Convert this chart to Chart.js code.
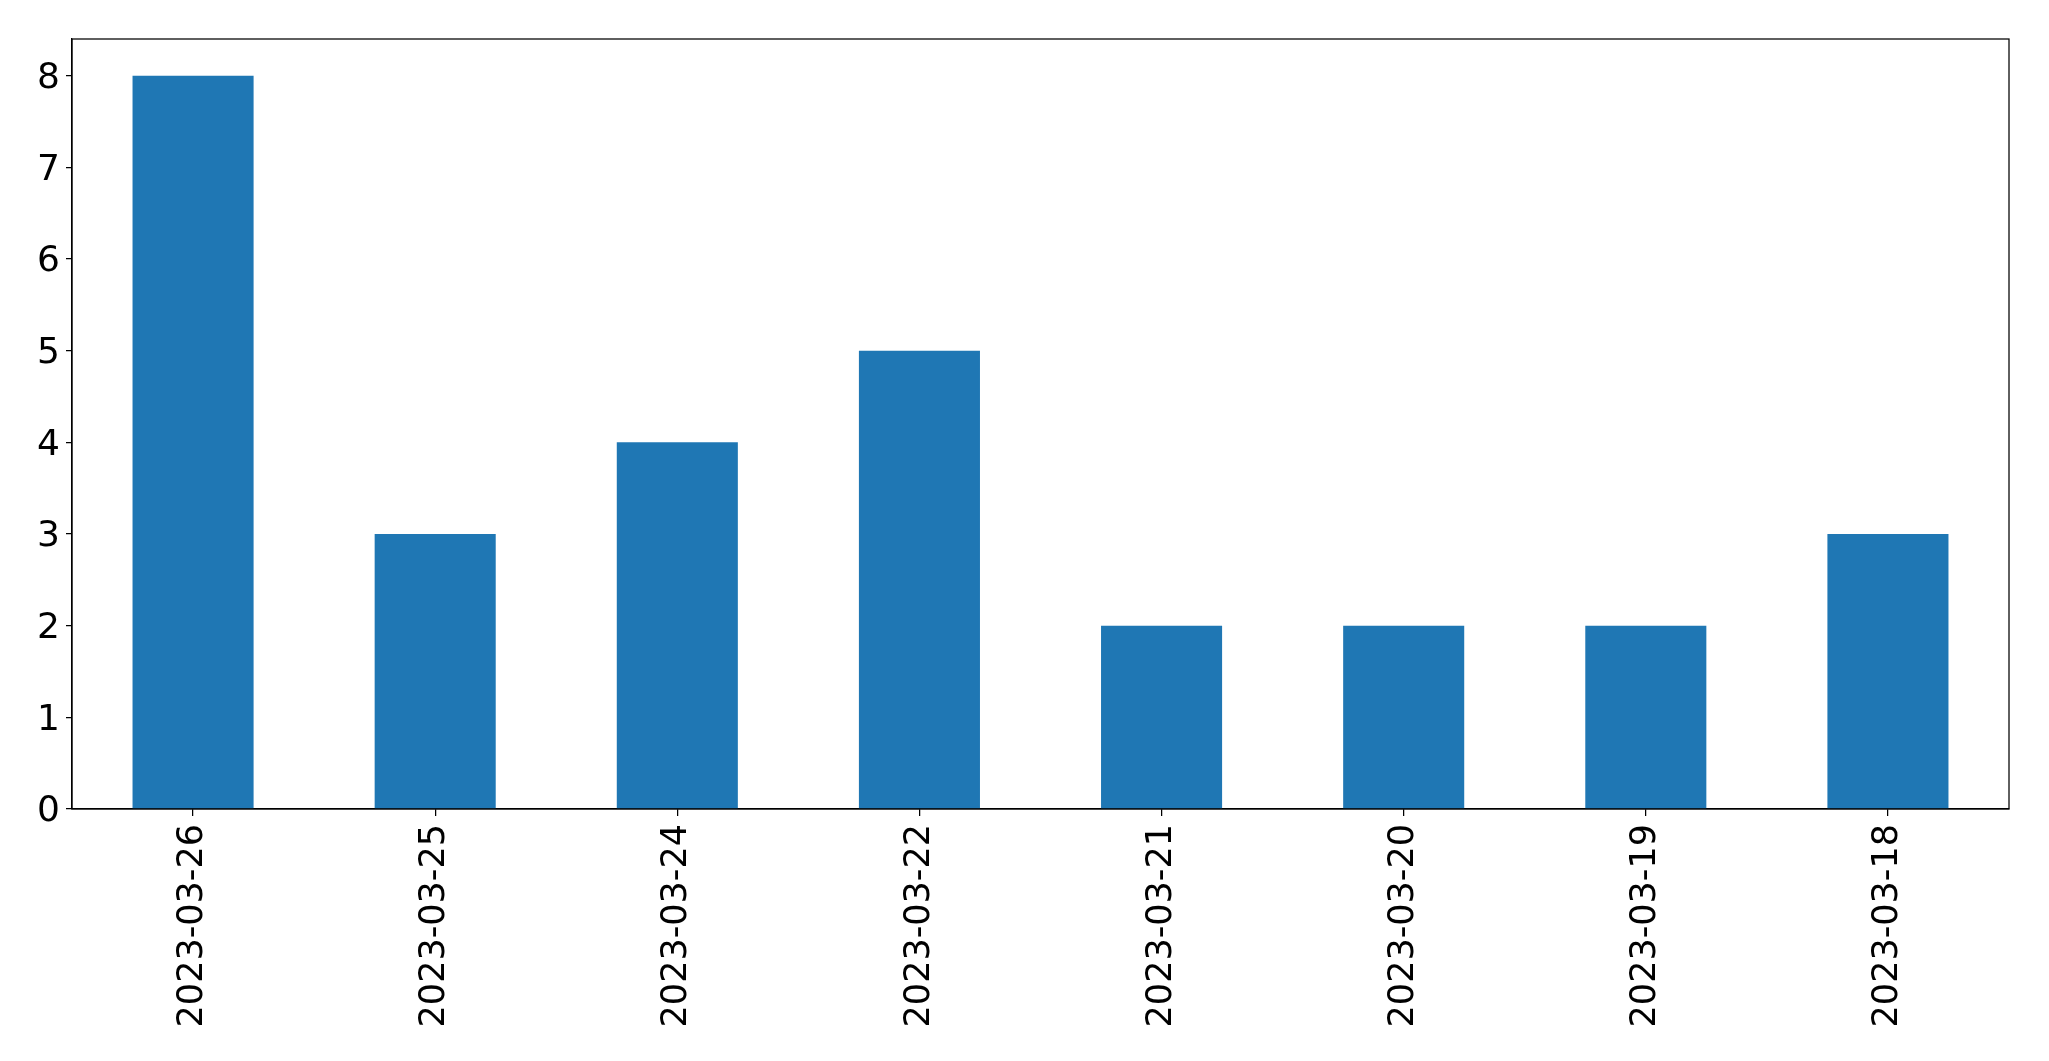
<!DOCTYPE html>
<html>
<head>
<meta charset="utf-8">
<script src="https://cdn.jsdelivr.net/npm/chart.js@4"></script>
<style>
  html, body { margin: 0; padding: 0; background: #fff; }
  canvas { display: block; }
</style>
</head>
<body>
<canvas id="chart" width="2049" height="1061"></canvas>
<script>
"use strict";

const dates = ["2023-03-26", "2023-03-25", "2023-03-24", "2023-03-22",
               "2023-03-21", "2023-03-20", "2023-03-19", "2023-03-18"];
const counts = [8, 3, 4, 5, 2, 2, 2, 3];
const yTicks = [0, 1, 2, 3, 4, 5, 6, 7, 8];

// frame round the plot, like matplotlib's spines
const frame = {
    id: "frame",
    afterDraw(chart) {
        const a = chart.chartArea;
        const ctx = chart.ctx;
        ctx.save();
        ctx.strokeStyle = "#000";
        ctx.lineWidth = 1.25;
        ctx.strokeRect(a.left, a.top, a.right - a.left, a.bottom - a.top);
        ctx.restore();
    }
};

const ctx = document.getElementById("chart").getContext("2d");
const chart = new Chart(ctx, {
    type: "bar",
    data: {
        labels: dates,
        datasets: [{
            data: counts,
            backgroundColor: "#1f77b4",
            categoryPercentage: 1.0,
            barPercentage: 0.5
        }]
    },
    options: {
        responsive: false,
        animation: false,
        layout: { padding: { top: 39, right: 40, left: 0, bottom: 0 } },
        plugins: { legend: { display: false }, tooltip: { enabled: false } },
        scales: {
            x: {
                offset: true,
                grid: { offset: false, drawOnChartArea: false, drawTicks: true, tickLength: 7, color: "#000", lineWidth: 1.25 },
                border: { display: true, color: "#000", width: 1.25 },
                ticks: { color: "#000", font: { family: "'DejaVu Sans'", size: 35 }, minRotation: 90, maxRotation: 90, padding: 8, autoSkip: false },
                afterFit: function (scale) { scale.height = 252; }
            },
            y: {
                min: 0,
                max: 8.4,
                grid: { drawOnChartArea: false, drawTicks: true, tickLength: 6, color: "#000", lineWidth: 1.25 },
                border: { display: true, color: "#000", width: 1.25 },
                ticks: { color: "#000", font: { family: "'DejaVu Sans'", size: 36 }, padding: 6, labelOffset: 3 },
                afterBuildTicks: function (axis) {
                    axis.ticks = yTicks.map(v => ({ value: v }));
                },
                afterFit: function (scale) { scale.width = 72; }
            }
        }
    },
    plugins: [frame]
});
</script>
</body>
</html>
